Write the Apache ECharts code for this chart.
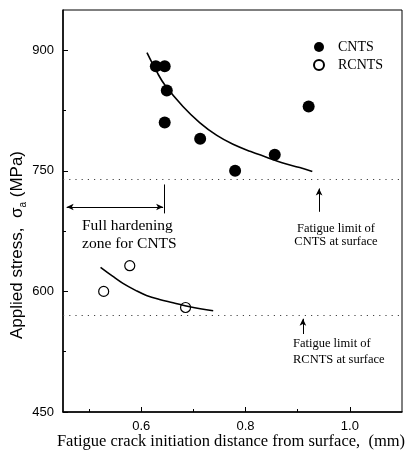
<!DOCTYPE html>
<html>
<head>
<meta charset="utf-8">
<script src="https://cdn.jsdelivr.net/npm/echarts@6/dist/echarts.min.js"></script>
<style>
  html, body { margin: 0; padding: 0; background: #fff; }
  #chart { width: 410px; height: 458px; }
</style>
</head>
<body>
<div id="chart"></div>
<script>
// measured points
const cntsX = [0.628, 0.645, 0.649, 0.645, 0.713, 0.780, 0.856, 0.921];
const cntsY = [880, 880, 850, 810, 790, 750, 770, 830];
const rcntsX = [0.528, 0.578, 0.685];
const rcntsY = [600, 632, 580];

// fitted curves
const cntsFitX = [0.611, 0.630, 0.645, 0.680, 0.712, 0.745, 0.776, 0.810, 0.840, 0.870, 0.904, 0.928];
const cntsFitY = [897, 873, 857, 830, 810, 794, 783, 774, 767, 760, 754, 749];
const rcntsFitX = [0.522, 0.545, 0.565, 0.590, 0.610, 0.635, 0.661, 0.693, 0.738];
const rcntsFitY = [630, 619, 610, 601, 595, 590, 586, 581, 576];

// fatigue limits at surface (CNTS, RCNTS)
const limitY = [740, 570];

// annotation arrows (data units)
const arrowCnts = [[0.941, 699], [0.941, 728]];
const arrowRcnts = [[0.910, 547], [0.910, 566]];
const zoneArrow = [[0.457, 705], [0.642, 705]];
const zoneEdge = [[0.645, 697], [0.645, 733]];

// ticks
const xMajor = [0.6, 0.8, 1.0];
const xMinor = [0.5, 0.7, 0.9];
const yMajor = [450, 600, 750, 900];
const yMinor = [525, 675, 825];

const serif = '"Liberation Serif", "DejaVu Serif", serif';
const sans = '"Liberation Sans", Arial, sans-serif';

function pairs(xs, ys) {
  return xs.map((x, i) => [x, ys[i]]);
}

function seg(a, s0, s1) {
  return [
    { coord: a[0], symbol: s0 },
    { coord: a[1], symbol: s1 }
  ];
}

let myChart = echarts.init(document.getElementById('chart'));

const xBase = { type: 'value', min: 0.45, max: 1.1, splitLine: { show: false } };
const yBase = { type: 'value', min: 450, max: 950, splitLine: { show: false } };

myChart.setOption({
  animation: false,
  backgroundColor: '#fff',
  grid: { left: 63, right: 8, top: 10, bottom: 46, show: true, borderColor: '#000', borderWidth: 1 },
  xAxis: [
    Object.assign({}, xBase, {
      axisLine: { lineStyle: { color: '#000', width: 1.5 } },
      axisTick: { inside: true, length: 5, customValues: xMajor, lineStyle: { color: '#000' } },
      axisLabel: {
        customValues: xMajor, margin: 8, color: '#000', fontFamily: sans, fontSize: 13,
        formatter: v => v.toFixed(1)
      }
    }),
    Object.assign({}, xBase, {
      position: 'bottom',
      axisLine: { show: false },
      axisTick: { inside: true, length: 3, customValues: xMinor, lineStyle: { color: '#000' } },
      axisLabel: { show: false }
    })
  ],
  yAxis: [
    Object.assign({}, yBase, {
      axisLine: { lineStyle: { color: '#000', width: 1.5 } },
      axisTick: { inside: true, length: 5, customValues: yMajor, lineStyle: { color: '#000' } },
      axisLabel: { customValues: yMajor, margin: 9, color: '#000', fontFamily: sans, fontSize: 13 }
    }),
    Object.assign({}, yBase, {
      position: 'left',
      axisLine: { show: false },
      axisTick: { inside: true, length: 3, customValues: yMinor, lineStyle: { color: '#000' } },
      axisLabel: { show: false }
    })
  ],
  legend: {
    data: ['CNTS', 'RCNTS'],
    orient: 'vertical',
    left: 308,
    top: 35,
    itemWidth: 10,
    itemHeight: 10,
    itemGap: 4,
    textStyle: { fontFamily: serif, fontSize: 14, color: '#000', padding: [0, 0, 0, 9] }
  },
  graphic: [
    {
      type: 'text', x: 17, y: 245, rotation: Math.PI / 2,
      style: {
        text: 'Applied stress,  σ{s|a} (MPa)',
        font: '17px ' + sans, fill: '#000', align: 'center', verticalAlign: 'middle',
        rich: { s: { fontSize: 10, fontFamily: sans, verticalAlign: 'bottom', lineHeight: 22 } }
      }
    },
    {
      type: 'text', x: 231, y: 442,
      style: {
        text: 'Fatigue crack initiation distance from surface,  (mm)',
        font: '16.5px ' + serif, fill: '#000', align: 'center', verticalAlign: 'middle'
      }
    },
    {
      type: 'text', x: 82, y: 226,
      style: { text: 'Full hardening', font: '15.5px ' + serif, fill: '#000', verticalAlign: 'middle' }
    },
    {
      type: 'text', x: 82, y: 244,
      style: { text: 'zone for CNTS', font: '15.5px ' + serif, fill: '#000', verticalAlign: 'middle' }
    },
    {
      type: 'text', x: 336, y: 229,
      style: { text: 'Fatigue limit of', font: '12.5px ' + serif, fill: '#000', align: 'center', verticalAlign: 'middle' }
    },
    {
      type: 'text', x: 336, y: 242,
      style: { text: 'CNTS at surface', font: '12.5px ' + serif, fill: '#000', align: 'center', verticalAlign: 'middle' }
    },
    {
      type: 'text', x: 293, y: 344,
      style: { text: 'Fatigue limit of', font: '12.5px ' + serif, fill: '#000', verticalAlign: 'middle' }
    },
    {
      type: 'text', x: 293, y: 360,
      style: { text: 'RCNTS at surface', font: '12.5px ' + serif, fill: '#000', verticalAlign: 'middle' }
    }
  ],
  series: [
    {
      name: 'limits',
      type: 'line',
      data: [],
      markLine: {
        silent: true,
        symbol: 'none',
        label: { show: false },
        lineStyle: { color: '#444', width: 1, type: [1.2, 5] },
        data: limitY.map(v => ({ yAxis: v }))
      }
    },
    {
      name: 'arrows',
      type: 'line',
      data: [],
      markLine: {
        silent: true,
        symbolSize: [5, 7],
        label: { show: false },
        lineStyle: { color: '#000', width: 1, type: 'solid' },
        data: [
          seg(arrowCnts, 'none', 'arrow'),
          seg(arrowRcnts, 'none', 'arrow'),
          seg(zoneArrow, 'arrow', 'arrow'),
          seg(zoneEdge, 'none', 'none')
        ]
      }
    },
    {
      name: 'CNTS fit',
      type: 'line',
      smooth: 0.4,
      showSymbol: false,
      data: pairs(cntsFitX, cntsFitY),
      lineStyle: { color: '#000', width: 1.6 }
    },
    {
      name: 'RCNTS fit',
      type: 'line',
      smooth: 0.4,
      showSymbol: false,
      data: pairs(rcntsFitX, rcntsFitY),
      lineStyle: { color: '#000', width: 1.6 }
    },
    {
      name: 'CNTS',
      type: 'scatter',
      symbol: 'circle',
      symbolSize: 12,
      data: pairs(cntsX, cntsY),
      itemStyle: { color: '#000', opacity: 1 }
    },
    {
      name: 'RCNTS',
      type: 'scatter',
      symbol: 'circle',
      symbolSize: 10,
      data: pairs(rcntsX, rcntsY),
      itemStyle: { color: '#fff', borderColor: '#000', borderWidth: 1.2, opacity: 1 }
    }
  ]
});
</script>
</body>
</html>
